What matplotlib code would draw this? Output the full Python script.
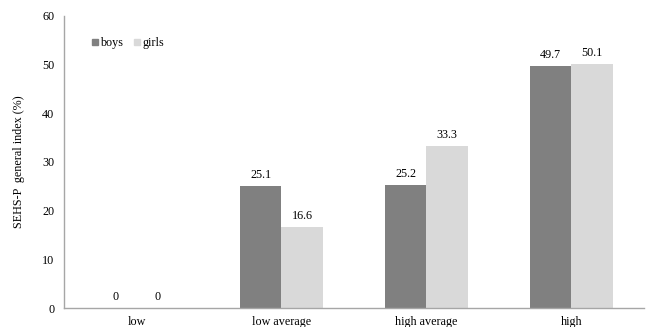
import numpy as np
import matplotlib.pyplot as plt
from matplotlib.patches import Patch

plt.rcParams['font.family'] = ['Liberation Serif', 'DejaVu Serif']

categories = ['low', 'low average', 'high average', 'high']
boys = [0, 25.1, 25.2, 49.7]
girls = [0, 16.6, 33.3, 50.1]

boys_color = '#808080'
girls_color = '#d9d9d9'
fs = 8.7

fig = plt.figure(figsize=(6.47, 3.27), dpi=100)
ax = fig.add_axes([0.0989, 0.0581, 0.8964, 0.893])

x = np.arange(len(categories))
w = 0.285
b1 = ax.bar(x - w / 2, boys, w, color=boys_color, linewidth=0)
b2 = ax.bar(x + w / 2, girls, w, color=girls_color, linewidth=0)

for bars, vals in [(b1, boys), (b2, girls)]:
    for rect, v in zip(bars, vals):
        ax.annotate(f'{v:g}', (rect.get_x() + rect.get_width() / 2, v),
                    xytext=(0, 3.5), textcoords='offset points',
                    ha='center', va='bottom', fontsize=fs)

ax.set_xlim(-0.5, len(categories) - 0.5)
ax.set_ylim(0, 60)
ax.set_yticks(range(0, 61, 10))
ax.set_xticks(x)
ax.set_xticklabels(categories)
ax.tick_params(axis='both', length=0, labelsize=fs)
ax.tick_params(axis='x', pad=6)
ax.tick_params(axis='y', pad=7)

for s in ['top', 'right']:
    ax.spines[s].set_visible(False)
for s in ['left', 'bottom']:
    ax.spines[s].set_color('#a6a6a6')
    ax.spines[s].set_linewidth(1)

ax.set_ylabel('SEHS-P  general index (%)', fontsize=fs, labelpad=12)

handles = [Patch(color=boys_color, label='boys'), Patch(color=girls_color, label='girls')]
ax.legend(handles=handles, loc='upper left', bbox_to_anchor=(0.048, 0.927), ncol=2,
          frameon=False, fontsize=fs, handlelength=0.5, handleheight=0.5,
          handletextpad=0.2, columnspacing=0.9, borderaxespad=0, borderpad=0)

fig.savefig('out.png', dpi=100)
